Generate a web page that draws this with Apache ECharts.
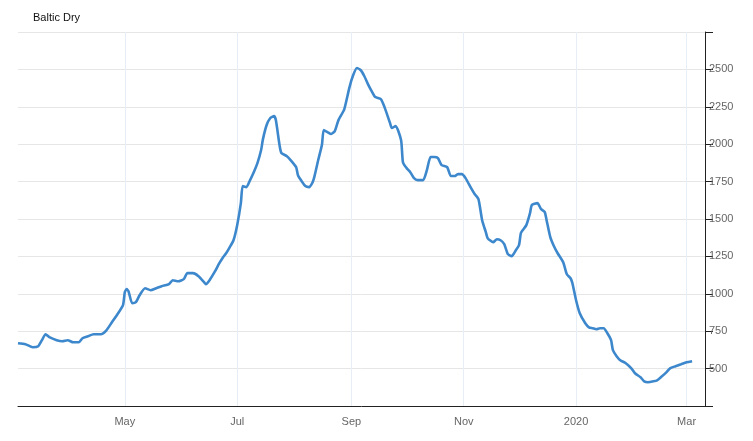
<!DOCTYPE html>
<html><head><meta charset="utf-8">
<script src="https://cdn.jsdelivr.net/npm/echarts@6/dist/echarts.min.js"></script>
<style>html,body{margin:0;padding:0;background:#fff}#c{width:753px;height:441px}</style>
</head><body><div id="c"></div>
<script>
var dates = ["2019-03-04","2019-03-08","2019-03-12","2019-03-15","2019-03-17","2019-03-19","2019-03-21","2019-03-25","2019-03-28","2019-03-31",
"2019-04-03","2019-04-06","2019-04-08","2019-04-11","2019-04-14","2019-04-18","2019-04-21","2019-04-24","2019-04-27","2019-04-30",
"2019-05-01","2019-05-02","2019-05-03","2019-05-05","2019-05-07","2019-05-09","2019-05-12","2019-05-15","2019-05-18","2019-05-21",
"2019-05-25","2019-05-27","2019-05-30","2019-06-02","2019-06-04","2019-06-07","2019-06-10","2019-06-13","2019-06-14","2019-06-16",
"2019-06-19","2019-06-21","2019-06-23","2019-06-25","2019-06-27","2019-06-29","2019-07-01","2019-07-03","2019-07-04","2019-07-06",
"2019-07-08","2019-07-10","2019-07-12","2019-07-14","2019-07-15","2019-07-17","2019-07-19","2019-07-21","2019-07-22","2019-07-24",
"2019-07-25","2019-07-28","2019-07-30","2019-08-02","2019-08-03","2019-08-05","2019-08-07","2019-08-09","2019-08-11","2019-08-12",
"2019-08-14","2019-08-16","2019-08-17","2019-08-19","2019-08-21","2019-08-23","2019-08-25","2019-08-28","2019-08-29","2019-08-31",
"2019-09-02","2019-09-04","2019-09-06","2019-09-08","2019-09-10","2019-09-12","2019-09-14","2019-09-17","2019-09-19","2019-09-22",
"2019-09-23","2019-09-25","2019-09-28","2019-09-29","2019-10-01","2019-10-03","2019-10-05","2019-10-07","2019-10-10","2019-10-12",
"2019-10-14","2019-10-16","2019-10-18","2019-10-20","2019-10-23","2019-10-25","2019-10-27","2019-10-29","2019-10-31","2019-11-02",
"2019-11-05","2019-11-07","2019-11-09","2019-11-11","2019-11-13","2019-11-14","2019-11-17","2019-11-19","2019-11-21","2019-11-23",
"2019-11-25","2019-11-27","2019-11-29","2019-12-01","2019-12-02","2019-12-03","2019-12-05","2019-12-07","2019-12-08","2019-12-11",
"2019-12-13","2019-12-15","2019-12-16","2019-12-18","2019-12-20","2019-12-22","2019-12-25","2019-12-27","2019-12-29","2019-12-30",
"2020-01-01","2020-01-03","2020-01-06","2020-01-08","2020-01-10","2020-01-12","2020-01-14","2020-01-16","2020-01-18","2020-01-20",
"2020-01-21","2020-01-23","2020-01-25","2020-01-28","2020-01-31","2020-02-02","2020-02-05","2020-02-07","2020-02-09","2020-02-12",
"2020-02-14","2020-02-16","2020-02-19","2020-02-21","2020-02-24","2020-02-27","2020-03-01","2020-03-04"];
var values = [670,663,643,650,690,730,710,690,683,690,
676,676,703,716,730,730,756,810,863,924,
1011,1031,1017,937,944,990,1037,1024,1037,1051,
1064,1091,1084,1098,1138,1138,1118,1078,1064,1091,
1151,1198,1238,1271,1312,1358,1459,1606,1720,1713,
1760,1813,1874,1961,2034,2128,2175,2188,2161,1994,
1941,1920,1894,1847,1793,1753,1720,1713,1747,1787,
1894,1994,2094,2081,2068,2088,2161,2228,2275,2382,
2462,2509,2496,2456,2402,2355,2315,2302,2248,2141,
2108,2121,2027,1880,1840,1813,1773,1760,1760,1827,
1914,1914,1907,1860,1847,1787,1787,1800,1800,1773,
1706,1666,1633,1492,1412,1372,1345,1365,1358,1332,
1265,1251,1285,1325,1405,1425,1459,1539,1593,1606,
1566,1546,1492,1379,1318,1271,1211,1131,1104,1071,
957,870,803,776,770,763,770,770,736,690,
623,583,556,536,502,469,442,415,409,415,
422,442,475,502,516,529,542,549];
var yTicks = [500,750,1000,1250,1500,1750,2000,2250,2500];
var monthNames = {"01":"","03":"Mar","05":"May","07":"Jul","09":"Sep","11":"Nov"};

function pad(n){return n<10?'0'+n:''+n;}
var days = [];
var d = new Date(Date.UTC(2019,2,4)), end = Date.UTC(2020,2,11);
while (d.getTime() <= end) {
  days.push(d.getUTCFullYear()+'-'+pad(d.getUTCMonth()+1)+'-'+pad(d.getUTCDate()));
  d = new Date(d.getTime()+86400000);
}
function isTick(idx, s){ s = s || days[idx]; var m = s.slice(5,7); return s.slice(8)==='01' && (m in monthNames); }
function label(s){ var m=s.slice(5,7); return m==='01' ? s.slice(0,4) : monthNames[m]; }

var chart = echarts.init(document.getElementById('c'));
chart.setOption({
  animation:false,
  title:{text:'Baltic Dry',left:28,top:7,textStyle:{fontSize:11,fontWeight:'normal',color:'#111',fontFamily:'Liberation Sans, Arial'}},
  grid:{left:18,right:48,top:32,bottom:35},
  xAxis:{type:'category',data:days,boundaryGap:false,
    axisLine:{lineStyle:{color:'#222'}},
    axisTick:{show:false},
    axisLabel:{interval:function(i,s){return isTick(i,s);},formatter:function(s){return label(s);},color:'#666',fontSize:11,fontFamily:'Liberation Sans, Arial',margin:10},
    splitLine:{show:true,interval:function(i,s){return isTick(i,s);},lineStyle:{color:'#e8eef5'}}},
  yAxis:{type:'value',position:'right',min:250,max:2750,interval:250,
    axisLine:{show:true,lineStyle:{color:'#222'}},
    axisTick:{show:true,length:8,lineStyle:{color:'#222'}},
    axisLabel:{color:'#666',fontSize:11,fontFamily:'Liberation Sans, Arial',margin:4,
      formatter:function(v){return yTicks.indexOf(v)>=0?String(v):'';}},
    splitLine:{lineStyle:{color:'#e6e6e6'}}},
  series:[{type:'line',data:dates.map(function(x,i){return [x,values[i]];}),showSymbol:false,smooth:0.2,
    lineStyle:{color:'#3d88cc',width:2.6},itemStyle:{color:'#3d88cc'}}]
});
</script></body></html>
